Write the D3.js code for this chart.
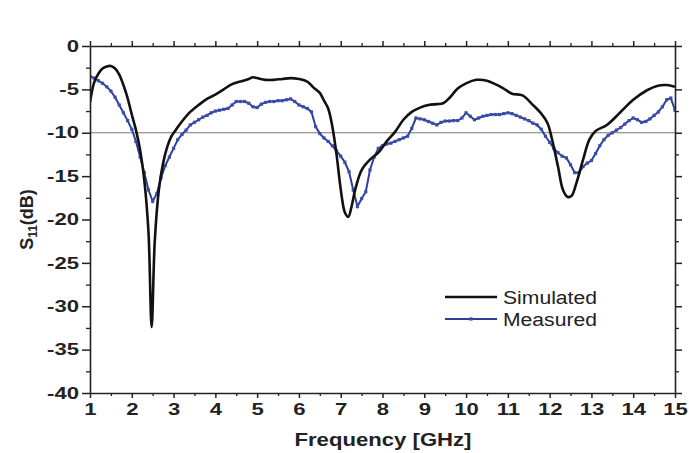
<!DOCTYPE html>
<html><head><meta charset="utf-8">
<script src="https://cdn.jsdelivr.net/npm/d3@7"></script>
<style>body{margin:0;background:#fff}svg{display:block}</style>
</head><body>
<svg id="c" width="689" height="453"></svg>
<script>
// Simulated S11 (frequency GHz, dB)
const simFreq = [1.0,1.1,1.2,1.3,1.4,1.5,1.6,1.7,1.8,1.9,2.0,2.1,2.2,2.3,2.4,2.475,2.55,2.65,2.75,2.85,2.95,3.05,3.2,3.4,3.6,3.8,4.0,4.2,4.4,4.6,4.8,4.9,5.0,5.2,5.4,5.6,5.8,6.0,6.2,6.35,6.5,6.6,6.7,6.8,6.9,7.0,7.1,7.18,7.26,7.35,7.5,7.7,7.9,8.1,8.3,8.5,8.7,8.9,9.1,9.3,9.45,9.6,9.8,10.0,10.25,10.5,10.7,10.9,11.1,11.35,11.6,11.8,11.95,12.05,12.2,12.32,12.43,12.52,12.64,12.8,12.95,13.1,13.37,13.68,14.0,14.33,14.57,14.8,15.0];
const simS11 = [-6.5,-4.2,-3.2,-2.6,-2.35,-2.3,-2.6,-3.3,-4.5,-6.0,-7.9,-9.7,-12.0,-15.5,-21.5,-32.4,-22.5,-16.5,-13.5,-11.6,-10.4,-9.7,-8.7,-7.6,-6.8,-6.1,-5.6,-5.0,-4.4,-4.1,-3.8,-3.6,-3.7,-3.9,-3.9,-3.8,-3.7,-3.8,-4.1,-4.8,-5.4,-6.3,-7.2,-9.3,-12.5,-16.5,-19.2,-19.7,-18.5,-16.5,-14.3,-13.1,-12.3,-11.0,-9.9,-8.5,-7.6,-7.1,-6.8,-6.7,-6.6,-6.0,-4.9,-4.3,-3.9,-4.0,-4.4,-4.9,-5.5,-5.7,-6.8,-7.8,-8.9,-10.6,-13.9,-16.6,-17.4,-17.3,-15.8,-13.1,-10.8,-9.8,-9.1,-7.7,-6.2,-5.1,-4.6,-4.5,-4.7];

// Measured S11 (frequency GHz, dB)
const measFreq = [1.0,1.1,1.2,1.3,1.4,1.5,1.6,1.7,1.8,1.9,2.0,2.1,2.2,2.3,2.4,2.5,2.6,2.7,2.8,2.9,3.0,3.1,3.2,3.3,3.4,3.5,3.6,3.7,3.8,3.9,4.0,4.1,4.2,4.3,4.4,4.5,4.6,4.7,4.8,4.9,5.0,5.1,5.2,5.3,5.4,5.5,5.6,5.7,5.8,5.9,6.0,6.1,6.2,6.3,6.4,6.5,6.6,6.7,6.8,6.9,7.0,7.1,7.2,7.3,7.4,7.5,7.6,7.7,7.8,7.9,8.0,8.1,8.2,8.3,8.4,8.5,8.6,8.7,8.8,8.9,9.0,9.1,9.2,9.3,9.4,9.5,9.6,9.7,9.8,9.9,10.0,10.1,10.2,10.3,10.4,10.5,10.6,10.7,10.8,10.9,11.0,11.1,11.2,11.3,11.4,11.5,11.6,11.7,11.8,11.9,12.0,12.1,12.2,12.3,12.4,12.5,12.6,12.7,12.8,12.9,13.0,13.1,13.2,13.3,13.4,13.5,13.6,13.7,13.8,13.9,14.0,14.1,14.2,14.3,14.4,14.5,14.6,14.7,14.8,14.9,15.0];
const measS11 = [-3.5,-3.7,-4.0,-4.3,-4.7,-5.2,-5.9,-6.8,-7.7,-8.6,-9.6,-11.0,-12.8,-14.6,-16.6,-17.9,-17.0,-15.2,-13.8,-12.8,-11.8,-10.8,-10.2,-9.7,-9.1,-8.8,-8.5,-8.2,-8.0,-7.7,-7.5,-7.4,-7.3,-7.2,-6.8,-6.4,-6.4,-6.4,-6.6,-7.0,-7.1,-6.7,-6.5,-6.4,-6.4,-6.3,-6.3,-6.2,-6.1,-6.4,-6.8,-7.0,-7.2,-7.6,-9.3,-10.1,-10.6,-11.0,-11.5,-12.1,-12.7,-13.4,-14.5,-16.6,-18.5,-17.6,-16.8,-14.3,-12.8,-11.8,-11.5,-11.3,-11.2,-11.0,-10.8,-10.6,-10.4,-9.5,-8.3,-8.4,-8.5,-8.7,-8.9,-9.1,-8.8,-8.65,-8.65,-8.6,-8.6,-8.3,-7.7,-8.1,-8.5,-8.3,-8.1,-8.0,-7.9,-7.9,-7.9,-7.8,-7.7,-7.8,-8.0,-8.2,-8.4,-8.6,-8.9,-9.1,-9.6,-10.4,-11.1,-11.8,-12.3,-12.7,-12.9,-13.7,-14.6,-14.6,-13.9,-13.5,-13.2,-12.4,-11.5,-10.8,-10.3,-10.0,-9.7,-9.4,-9.0,-8.6,-8.3,-8.5,-8.8,-8.7,-8.4,-8.0,-7.6,-7.0,-6.2,-6.0,-7.4];

const xTicks = [1,2,3,4,5,6,7,8,9,10,11,12,13,14,15];
const yTicks = [0,-5,-10,-15,-20,-25,-30,-35,-40];
const seriesNames = ["Simulated","Measured"];

const svg = d3.select("#c");
const L = 90, R = 675, T = 46, B = 393;
const x = d3.scaleLinear().domain([1,15]).range([L,R]);
const y = d3.scaleLinear().domain([0,-40]).range([T,B]);
const axisColor = "#222";
const blue = "#2f3f99";
const font = "'Liberation Sans', Arial, sans-serif";
const fmt = d => String(d); // plain hyphen-minus as in the original
const STRETCH = 1.38;

function stretch(sel, k){
  sel.each(function(){
    const len = this.getComputedTextLength();
    d3.select(this).attr("textLength", len*k).attr("lengthAdjust","spacingAndGlyphs");
  });
}

const minorX = d3.range(1.5, 15, 1);
const minorY = d3.range(-2.5, -40, -5);

// reference line at -10
svg.append("line").attr("x1",L).attr("x2",R).attr("y1",y(-10)).attr("y2",y(-10))
  .attr("stroke","#666").attr("stroke-width",0.9);

// curves
svg.append("clipPath").attr("id","pc").append("rect")
  .attr("x",L).attr("y",T-2).attr("width",R-L).attr("height",B-T+2);
const g = svg.append("g").attr("clip-path","url(#pc)");

const simData = simFreq.map((f,i)=>[f,simS11[i]]);
const measData = measFreq.map((f,i)=>[f,measS11[i]]);

g.append("path").datum(measData)
  .attr("d", d3.line().x(d=>x(d[0])).y(d=>y(d[1])))
  .attr("fill","none").attr("stroke",blue).attr("stroke-width",2);
g.selectAll("rect.m").data(measData).enter().append("rect").attr("class","m")
  .attr("x",d=>x(d[0])-1.6).attr("y",d=>y(d[1])-1.6).attr("width",3.2).attr("height",3.2)
  .attr("fill","#3a4caa");

g.append("path").datum(simData)
  .attr("d", d3.line().x(d=>x(d[0])).y(d=>y(d[1])).curve(d3.curveCatmullRom.alpha(0.5)))
  .attr("fill","none").attr("stroke","#111").attr("stroke-width",2.6).attr("stroke-linejoin","round");

// axes
function styleAxis(sel){
  sel.selectAll("path.domain").attr("stroke",axisColor).attr("stroke-width",1.6);
  sel.selectAll(".tick line").attr("stroke",axisColor).attr("stroke-width",1.5);
  sel.selectAll("text").attr("font-family",font).attr("font-weight","bold")
    .attr("font-size","16px").attr("fill","#222");
}
function minorStyle(s){ s.select(".domain").remove(); s.selectAll(".tick line").attr("stroke",axisColor).attr("stroke-width",1.3); }

// bottom
const gb = svg.append("g").attr("transform",`translate(0,${B})`)
  .call(d3.axisBottom(x).tickValues(xTicks).tickFormat(fmt).tickSizeInner(5).tickSizeOuter(0).tickPadding(6));
styleAxis(gb);
stretch(gb.selectAll("text"), STRETCH);
svg.append("g").attr("transform",`translate(0,${B})`)
  .call(d3.axisBottom(x).tickValues(minorX).tickFormat("").tickSize(3).tickSizeOuter(0)).call(minorStyle);
// top
const gt = svg.append("g").attr("transform",`translate(0,${T})`)
  .call(d3.axisBottom(x).tickValues(xTicks).tickFormat("").tickSizeInner(-5).tickSizeOuter(0));
styleAxis(gt);
svg.append("g").attr("transform",`translate(0,${T})`)
  .call(d3.axisBottom(x).tickValues(minorX).tickFormat("").tickSize(-3).tickSizeOuter(0)).call(minorStyle);
// left
const gl = svg.append("g").attr("transform",`translate(${L},0)`)
  .call(d3.axisLeft(y).tickValues(yTicks).tickFormat(fmt).tickSizeInner(8).tickSizeOuter(0).tickPadding(3));
styleAxis(gl);
stretch(gl.selectAll("text"), STRETCH);
svg.append("g").attr("transform",`translate(${L},0)`)
  .call(d3.axisLeft(y).tickValues(minorY).tickFormat("").tickSize(4).tickSizeOuter(0)).call(minorStyle);
// right
const gr = svg.append("g").attr("transform",`translate(${R},0)`)
  .call(d3.axisLeft(y).tickValues(yTicks).tickFormat("").tickSizeInner(-7).tickSizeOuter(0));
styleAxis(gr);
svg.append("g").attr("transform",`translate(${R},0)`)
  .call(d3.axisLeft(y).tickValues(minorY).tickFormat("").tickSize(-4).tickSizeOuter(0)).call(minorStyle);

// axis titles
const xt = svg.append("text").attr("x",383).attr("y",446).attr("text-anchor","middle")
  .attr("font-family",font).attr("font-weight","bold").attr("font-size","18px").attr("fill","#222")
  .text("Frequency [GHz]");
xt.attr("textLength",177).attr("lengthAdjust","spacingAndGlyphs");

const yl = svg.append("text").attr("transform",`translate(33,${(T+B)/2}) rotate(-90)`)
  .attr("text-anchor","middle").attr("font-family",font).attr("font-weight","bold")
  .attr("font-size","18px").attr("fill","#222");
yl.append("tspan").text("S");
yl.append("tspan").attr("font-size","12px").attr("dy",4).text("11");
yl.append("tspan").attr("dy",-4).text("(dB)");

// legend
const leg = svg.append("g");
const legY = [297,319];
leg.append("line").attr("x1",445).attr("x2",497).attr("y1",legY[0]).attr("y2",legY[0])
  .attr("stroke","#111").attr("stroke-width",2.6);
leg.append("line").attr("x1",445).attr("x2",497).attr("y1",legY[1]).attr("y2",legY[1])
  .attr("stroke",blue).attr("stroke-width",2);
leg.append("rect").attr("x",469.4).attr("y",legY[1]-1.6).attr("width",3.2).attr("height",3.2).attr("fill","#3a4caa");
seriesNames.forEach((n,i)=>{
  leg.append("text").attr("x",503).attr("y",legY[i]+6.5).attr("font-family",font)
    .attr("font-size","18px").attr("fill","#222").text(n)
    .attr("textLength",94).attr("lengthAdjust","spacingAndGlyphs");
});
</script>
</body></html>
